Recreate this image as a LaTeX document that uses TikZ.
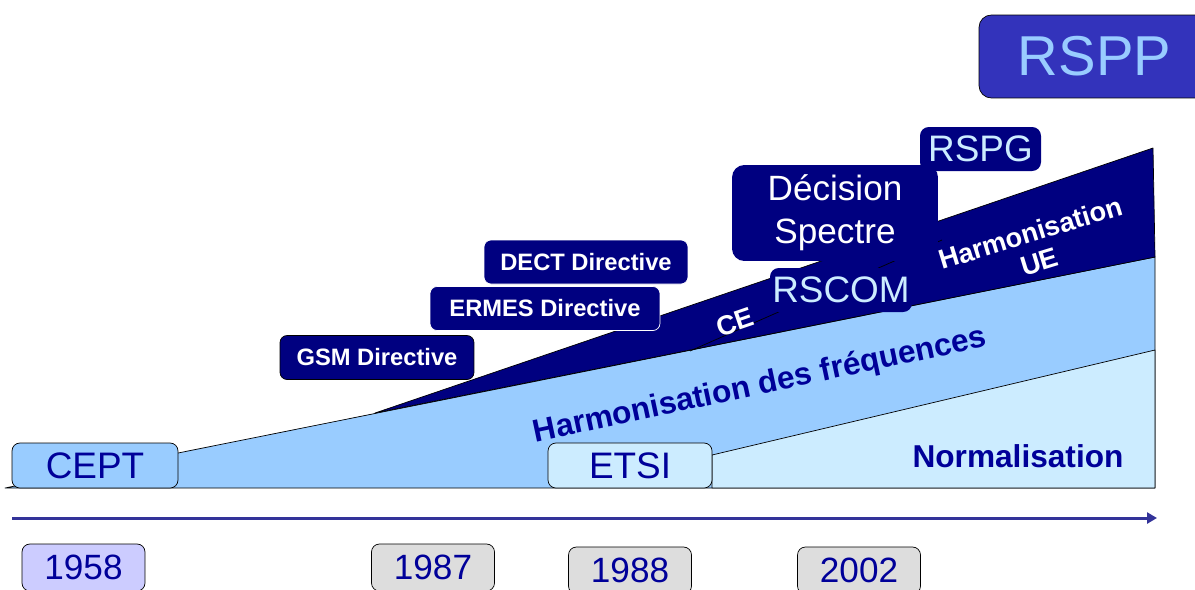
\documentclass[tikz,border=0pt]{standalone}
\usepackage{fontspec}
\setmainfont{Liberation Sans}
\usetikzlibrary{arrows.meta}
\definecolor{navy}{HTML}{000080}
\definecolor{txtblue}{HTML}{000099}
\definecolor{lightblue}{HTML}{99CCFF}
\definecolor{paleblue}{HTML}{CCECFF}
\definecolor{lavender}{HTML}{CCCCFF}
\definecolor{boxgray}{HTML}{DDDDDD}
\definecolor{axisblue}{HTML}{333399}
\definecolor{rsppblue}{HTML}{3333BB}
\begin{document}
\begin{tikzpicture}[x=0.02cm, y=-0.02cm, line join=round,
  org node/.style={draw, rounded corners=4.5pt, inner sep=0pt, minimum height=0.9cm, text=txtblue, font=\fontsize{21}{24}\selectfont},
  year node/.style={draw, rounded corners=4.5pt, inner sep=0pt, minimum width=2.46cm, minimum height=0.94cm, fill=boxgray, text=txtblue, font=\fontsize{20}{24}\selectfont},
  dir node/.style={draw, rounded corners=4pt, inner sep=0pt, minimum height=0.88cm, fill=navy, text=white, font=\fontsize{13.5}{16}\selectfont\bfseries},
  eu node/.style={rounded corners=5pt, inner sep=0pt, minimum height=0.88cm, fill=navy, text=paleblue, font=\fontsize{21}{24}\selectfont},
  band label/.style={text=txtblue, font=\fontsize{18}{21}\selectfont\bfseries},
  ue label/.style={text=white, align=center, font=\fontsize{15.5}{17}\selectfont\bfseries}]
\clip (0,0) rectangle (1195,589);
% bands
\filldraw[fill=lightblue] (178,453) -- (1155,257) -- (1155,488) -- (5,488) -- cycle;
\filldraw[fill=paleblue] (712,455) -- (1155,350) -- (1155,488) -- (712,488) -- cycle;
\filldraw[fill=navy] (375,413) -- (1153,148) -- (1155,257) -- cycle;
\draw (690,351) -- (942,240);
\node [band label, rotate=12] (harmfreq) at (760,386) {Harmonisation des fréquences};
\node [band label] (norm) at (1018,456) {Normalisation};
\node [ue label, rotate=19] (ce) at (735,322) {CE};
\node [ue label, rotate=17] (harmue) at (1035,247) {Harmonisation\\UE};
% organisations
\node [org node, fill=lightblue, minimum width=3.32cm] (cept) at (95,465.5) {CEPT};
\node [org node, fill=paleblue, minimum width=3.28cm] (etsi) at (630,465.5) {ETSI};
% directives
\node [dir node, minimum width=3.88cm] (gsm) at (377,357.5) {GSM Directive};
\node [dir node, draw=white, minimum width=4.6cm] (ermes) at (545,308.5) {ERMES Directive};
\node [dir node, draw=white, minimum width=4.08cm] (dect) at (586,262) {DECT Directive};
% EU
\node [eu node, text=white, rounded corners=7pt, align=center, minimum width=4.12cm, minimum height=1.92cm, font=\fontsize{20}{24.5}\selectfont] (decision) at (835,213) {Décision\\Spectre};
\node [eu node, minimum width=2.42cm] (rspg) at (980.5,149) {RSPG};
\node [eu node, minimum width=2.84cm] (rscom) at (841,290) {RSCOM};
\node [draw, rounded corners=7pt, fill=rsppblue, text=lightblue, minimum width=4.62cm, minimum height=1.66cm, font=\fontsize{32}{36}\selectfont] (rspp) at (1094.5,56.5) {RSPP};
% time axis
\coordinate (t0) at (12,518);
\coordinate (t1) at (1157,518);
\draw [axisblue, line width=1.7pt, -{Triangle[length=0.2cm, width=0.22cm]}] (t0) -- (t1);
\node [year node, fill=lavender] (y1958) at (83.5,567.5) {1958};
\node [year node] (y1987) at (433,567.5) {1987};
\node [year node] (y1988) at (630,570.5) {1988};
\node [year node] (y2002) at (859,570.5) {2002};
\end{tikzpicture}
\end{document}
